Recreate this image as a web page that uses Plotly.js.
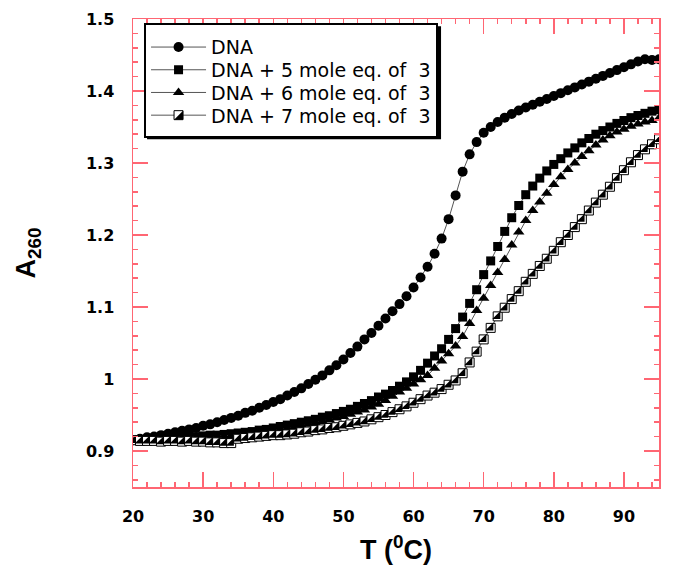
<!DOCTYPE html>
<html>
<head>
<meta charset="utf-8">
<script src="https://cdn.plot.ly/plotly-3.0.1.min.js"></script>
<style>html,body{margin:0;padding:0;background:#fff;}#chart{width:681px;height:581px;}</style>
</head>
<body>
<div id="chart"></div>
<script>
// Temperature (°C)
const temps = [20,21,22,23,24,25,26,27,28,29,30,31,32,33,34,35,36,37,38,39,40,41,42,43,44,45,46,47,48,49,50,51,52,53,54,55,56,57,58,59,60,61,62,63,64,65,66,67,68,69,70,71,72,73,74,75,76,77,78,79,80,81,82,83,84,85,86,87,88,89,90,91,92,93,94,95];

// A260 values
const dnaOnly = [0.915,0.917,0.919,0.920,0.922,0.924,0.926,0.928,0.930,0.932,0.935,0.937,0.940,0.943,0.946,0.949,0.953,0.956,0.960,0.964,0.968,0.972,0.977,0.982,0.987,0.993,0.999,1.005,1.012,1.019,1.027,1.036,1.045,1.055,1.064,1.074,1.084,1.094,1.104,1.115,1.127,1.141,1.156,1.174,1.195,1.222,1.255,1.288,1.312,1.329,1.342,1.350,1.357,1.363,1.368,1.373,1.377,1.381,1.385,1.389,1.393,1.397,1.401,1.405,1.409,1.413,1.417,1.421,1.425,1.429,1.433,1.437,1.441,1.444,1.443,1.444];

const dna5eq = [0.915,0.916,0.916,0.917,0.917,0.918,0.918,0.919,0.920,0.920,0.921,0.922,0.922,0.923,0.924,0.925,0.926,0.927,0.929,0.930,0.932,0.934,0.936,0.938,0.940,0.942,0.944,0.947,0.949,0.952,0.955,0.958,0.962,0.966,0.970,0.975,0.979,0.984,0.990,0.996,1.003,1.012,1.022,1.032,1.042,1.055,1.070,1.086,1.105,1.124,1.145,1.164,1.184,1.205,1.224,1.241,1.256,1.268,1.279,1.289,1.298,1.306,1.314,1.321,1.328,1.334,1.340,1.345,1.350,1.355,1.359,1.363,1.366,1.369,1.372,1.374];

const dna6eq = [0.912,0.913,0.913,0.914,0.914,0.915,0.915,0.916,0.917,0.917,0.918,0.919,0.920,0.920,0.921,0.922,0.923,0.924,0.925,0.927,0.928,0.930,0.931,0.933,0.935,0.937,0.939,0.941,0.943,0.946,0.948,0.951,0.954,0.957,0.961,0.965,0.970,0.976,0.982,0.987,0.993,0.999,1.005,1.015,1.025,1.035,1.046,1.059,1.077,1.095,1.112,1.130,1.148,1.166,1.186,1.204,1.220,1.234,1.246,1.258,1.270,1.281,1.291,1.300,1.309,1.317,1.325,1.332,1.338,1.343,1.347,1.351,1.354,1.357,1.359,1.362];

const dna7eq = [0.915,0.914,0.914,0.914,0.913,0.914,0.914,0.913,0.914,0.913,0.913,0.912,0.912,0.911,0.911,0.917,0.918,0.919,0.920,0.921,0.922,0.922,0.923,0.924,0.926,0.927,0.929,0.930,0.932,0.933,0.935,0.937,0.939,0.941,0.944,0.947,0.950,0.954,0.958,0.962,0.967,0.972,0.977,0.981,0.986,0.992,0.998,1.008,1.023,1.038,1.055,1.071,1.087,1.099,1.111,1.122,1.135,1.146,1.157,1.167,1.178,1.190,1.200,1.211,1.222,1.234,1.245,1.256,1.267,1.279,1.290,1.301,1.311,1.319,1.326,1.333];

const seriesNames = ["DNA", "DNA + 5 mole eq. of\u00a0\u00a03", "DNA + 6 mole eq. of\u00a0\u00a03", "DNA + 7 mole eq. of\u00a0\u00a03"];
const xTickVals = [20,30,40,50,60,70,80,90];

const lineStyle = {color: '#555555', width: 1};
const axisRed = '#ff6673';

const traces = [
  {x: temps, y: dnaOnly, name: seriesNames[0], mode: 'lines+markers', line: lineStyle,
   marker: {symbol: 'circle', size: 10, color: '#000'}},
  {x: temps, y: dna5eq, name: seriesNames[1], mode: 'lines+markers', line: lineStyle,
   marker: {symbol: 'square', size: 9, color: '#000'}},
  {x: temps, y: dna6eq, name: seriesNames[2], mode: 'lines+markers', line: lineStyle,
   marker: {symbol: 'triangle-up', size: 10, color: '#000'}},
  {x: temps, y: dna7eq, name: seriesNames[3], mode: 'lines+markers', line: lineStyle,
   marker: {symbol: 'square', size: 9, color: '#fff', line: {color: '#000', width: 1}}},
  {x: temps, y: dna7eq, name: seriesNames[3], mode: 'markers', showlegend: false,
   marker: {symbol: 'triangle-se', size: 9, color: '#000', line: {width: 0}}}
];

const tickFont = {family: 'DejaVu Sans', size: 16, color: '#000', weight: 'bold'};

const layout = {
  width: 681, height: 581,
  margin: {l: 133, r: 22, t: 19, b: 94},
  paper_bgcolor: '#fff', plot_bgcolor: '#fff',
  showlegend: true,
  legend: {
    x: 0.021, y: 0.991, xanchor: 'left', yanchor: 'top',
    bgcolor: '#fff', bordercolor: '#000', borderwidth: 2,
    font: {family: 'DejaVu Sans', size: 19, color: '#000'},
    itemwidth: 55, tracegroupgap: 0
  },
  xaxis: {
    range: [20, 95], tickvals: xTickVals, showgrid: false, zeroline: false,
    showline: true, linecolor: axisRed, linewidth: 1.5, mirror: 'allticks',
    ticks: 'inside', ticklen: 15, tickwidth: 1.5, tickcolor: axisRed,
    minor: {ticks: 'inside', ticklen: 5, dtick: 2, tickwidth: 1.5, tickcolor: axisRed, showgrid: false},
    tickfont: tickFont, ticklabelstandoff: 14,
    title: {text: 'T (<sup>0</sup>C)', font: {family: 'Liberation Sans', size: 27, color: '#000', weight: 'bold'}, standoff: 15}
  },
  yaxis: {
    range: [0.85, 1.5], dtick: 0.1, tick0: 0, showgrid: false, zeroline: false,
    showline: true, linecolor: axisRed, linewidth: 1.5, mirror: 'allticks',
    ticks: 'inside', ticklen: 15, tickwidth: 1.5, tickcolor: axisRed,
    minor: {ticks: 'inside', ticklen: 5, dtick: 0.02, tickwidth: 1.5, tickcolor: axisRed, showgrid: false},
    tickfont: tickFont, ticklabelstandoff: 14,
    title: {text: 'A<sub>260</sub>', font: {family: 'Liberation Sans', size: 27, color: '#000', weight: 'bold'}, standoff: 42}
  }
};

const rowGap = 22.7;   // legend row spacing in the reference
const shift = 3;       // push legend rows a little lower

function parseT(el) {
  const m = (el.getAttribute('transform') || '').match(/translate\(([-\d.]+)[ ,]+([-\d.]+)\)/);
  return m ? [parseFloat(m[1]), parseFloat(m[2])] : null;
}

Plotly.newPlot('chart', traces, layout, {displayModeBar: false, staticPlot: true}).then(function(gd) {
  const fl = gd._fullLayout;
  const w = fl.legend._width;
  const items = gd.querySelectorAll('.legend .traces');
  let oldGap = 26.4;
  if (items.length > 1) {
    const a = parseT(items[0]), b = parseT(items[1]);
    if (a && b) oldGap = b[1] - a[1];
  }
  const h = fl.legend._height - (items.length - 1) * (oldGap - rowGap) + shift;
  const pw = fl._size.w, ph = fl._size.h;
  const off = 3;
  return Plotly.relayout(gd, {shapes: [{type: 'rect', xref: 'paper', yref: 'paper',
    x0: layout.legend.x + off / pw, x1: layout.legend.x + (w + off) / pw,
    y0: layout.legend.y - (h + off) / ph, y1: layout.legend.y - off / ph,
    fillcolor: '#000', line: {width: 0}, layer: 'above'}]}).then(function() {
    const its = gd.querySelectorAll('.legend .traces');
    let baseY = null;
    its.forEach(function(el, i) {
      const t = parseT(el);
      if (!t) return;
      if (baseY === null) baseY = t[1];
      el.setAttribute('transform', 'translate(' + t[0] + ',' + (baseY + shift + i * rowGap) + ')');
    });
    const bg = gd.querySelector('.legend .bg');
    if (bg) bg.setAttribute('height', h);
    // half-filled square in the legend for the last series
    const last = its[its.length - 1];
    if (last) {
      const pt = last.querySelector('.legendpoints path.scatterpts');
      if (pt) {
        const tri = pt.cloneNode(false);
        tri.setAttribute('d', 'M4.5,-4.5V4.5H-4.5Z');
        tri.setAttribute('style', 'fill:#000;stroke:none;opacity:1');
        pt.parentNode.appendChild(tri);
      }
    }
  });
});
</script>
</body>
</html>
